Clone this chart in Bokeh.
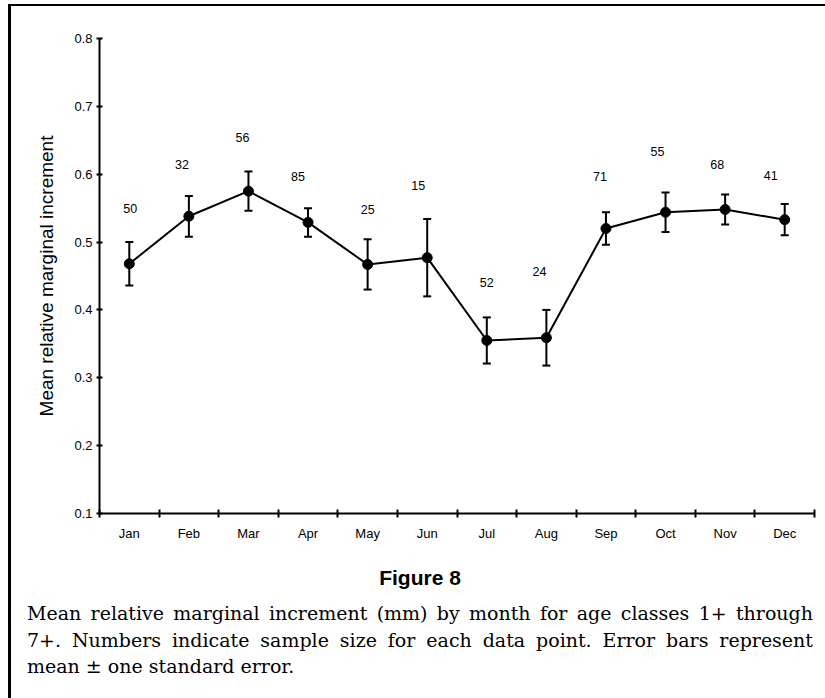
import numpy as np
from bokeh.plotting import figure
from bokeh.models import (ColumnDataSource, Range1d, FixedTicker, Whisker,
                          TeeHead, Div)
from bokeh.layouts import column
from bokeh.core.properties import value
from bokeh.embed import file_html
from bokeh.resources import INLINE

# Monthly mean relative marginal increment, age classes 1+ to 7+
months = ["Jan", "Feb", "Mar", "Apr", "May", "Jun",
          "Jul", "Aug", "Sep", "Oct", "Nov", "Dec"]
mean_mri = [0.468, 0.538, 0.575, 0.529, 0.467, 0.477,
            0.355, 0.359, 0.520, 0.544, 0.548, 0.533]
std_err = [0.032, 0.030, 0.029, 0.021, 0.037, 0.057,
           0.034, 0.041, 0.024, 0.029, 0.022, 0.023]
sample_n = [50, 32, 56, 85, 25, 15, 52, 24, 71, 55, 68, 41]
# height at which each sample-size label sits, and a small pixel nudge
n_label_y = [0.549, 0.615, 0.654, 0.597, 0.548, 0.584,
             0.441, 0.456, 0.597, 0.633, 0.615, 0.598]
n_label_dx = [1, -7, -6, -10, 0, -9, 0, -7, -6, -8, -8, -14]
y_ticks = [0.1, 0.2, 0.3, 0.4, 0.5, 0.6, 0.7, 0.8]

centers = (np.arange(len(months)) + 0.5).tolist()
edges = list(range(len(months) + 1))
mean_arr = np.array(mean_mri)
se_arr = np.array(std_err)

src = ColumnDataSource(dict(
    x=centers,
    y=mean_mri,
    upper=(mean_arr + se_arr).tolist(),
    lower=(mean_arr - se_arr).tolist(),
    ny=n_label_y,
    dx=n_label_dx,
    n=[str(v) for v in sample_n],
))

SANS = "Liberation Sans"

p = figure(width=814, height=549, output_backend="svg", toolbar_location=None,
           x_range=Range1d(0, len(months)), y_range=Range1d(0.1, 0.8),
           min_border_left=88, min_border_right=11,
           min_border_top=32, min_border_bottom=42)
p.outline_line_color = None
p.grid.visible = False
p.background_fill_color = "white"
p.border_fill_color = "white"

# error bars: mean ± one standard error
head = dict(size=8, line_width=2, line_color="black")
p.add_layout(Whisker(base="x", upper="upper", lower="lower", source=src,
                     line_width=2, line_color="black",
                     upper_head=TeeHead(**head), lower_head=TeeHead(**head)))
p.line("x", "y", source=src, line_width=2, line_color="black")
p.scatter("x", "y", source=src, size=10, fill_color="black",
          line_color="black")

# sample size above each month
p.text("x", "ny", text="n", source=src, x_offset="dx",
       text_font=value(SANS), text_font_size="12.5px", text_color="black",
       text_align="center", text_baseline="middle")

# x axis: month names centred, tick marks on the month boundaries
xa = p.xaxis[0]
xa.ticker = FixedTicker(ticks=centers, minor_ticks=edges)
xa.major_label_overrides = {c: m for c, m in zip(centers, months)}
xa.major_tick_in = 0
xa.major_tick_out = 0
xa.minor_tick_in = 4
xa.minor_tick_out = 4
xa.minor_tick_line_width = 2
xa.minor_tick_line_color = "black"
xa.major_label_standoff = 8

ya = p.yaxis[0]
ya.ticker = FixedTicker(ticks=y_ticks)
ya.minor_tick_line_color = None
ya.major_tick_in = 3
ya.major_tick_out = 3
ya.major_tick_line_width = 2
ya.major_label_standoff = 4
ya.axis_label = "Mean relative marginal increment"
ya.axis_label_standoff = 14
ya.axis_label_text_font = SANS
ya.axis_label_text_font_size = "19px"
ya.axis_label_text_font_style = "normal"
ya.axis_label_text_color = "black"

for ax in (xa, ya):
    ax.axis_line_width = 2
    ax.axis_line_color = "black"
    ax.major_tick_line_color = "black"
    ax.major_label_text_font = SANS
    ax.major_label_text_font_size = "13px"
    ax.major_label_text_color = "black"

line_style = "display:block;text-align:justify;text-align-last:justify;white-space:nowrap;"
caption = Div(width=814, height=143, text=f"""
<div style="width:814px;color:black;">
  <div style="margin:6px 0 0 11px;width:786px;text-align:center;
              font-family:'{SANS}';font-weight:bold;font-size:21px;line-height:24px;">Figure 8</div>
  <div style="margin:10px 0 0 11px;width:786px;font-family:'DejaVu Serif';
              font-size:19px;line-height:26.5px;">
    <span style="{line_style}">Mean relative marginal increment (mm) by month for age classes 1+ through</span>
    <span style="{line_style}">7+. Numbers indicate sample size for each data point. Error bars represent</span>
    <span style="display:block;">mean ± one standard error.</span>
  </div>
</div>
""")

page = column(p, caption, margin=(4, 0, 0, 8),
              styles={"border-left": "3px solid black",
                      "border-top": "2px solid black",
                      "background-color": "white"})

open("out.html", "w").write(file_html(page, INLINE))
